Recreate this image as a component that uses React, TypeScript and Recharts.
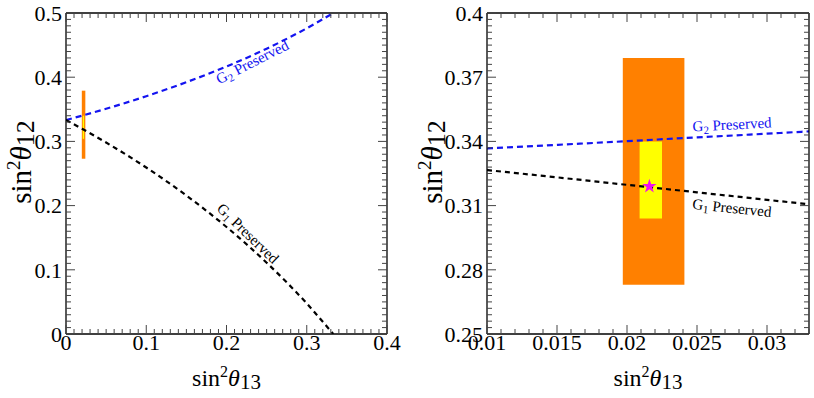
import React from 'react';
import { ComposedChart, Line, XAxis, YAxis, ReferenceArea, ReferenceDot, Scatter, Label } from 'recharts';

// Left panel: full range of the two preserved-subgroup curves
const leftS13 = [0, 0.02, 0.05, 0.1, 0.15, 0.2, 0.25, 0.3, 0.333];
const leftG2 = [0.3333, 0.3401, 0.3509, 0.3704, 0.3922, 0.4167, 0.4444, 0.4762, 0.4998];
const leftG1 = [0.3333, 0.3197, 0.2982, 0.2593, 0.2157, 0.1667, 0.1111, 0.0476, 0.0];

// Right panel: zoom around the measured region
const rightS13 = [0.01, 0.015, 0.02, 0.025, 0.03, 0.033];
const rightG2 = [0.3367, 0.3384, 0.3401, 0.3419, 0.3436, 0.3447];
const rightG1 = [0.3266, 0.3232, 0.3197, 0.3162, 0.3127, 0.3106];

// 3 sigma (orange) and 1 sigma (yellow) ranges, best fit point
const sigma3S13 = [0.0197, 0.0241];
const sigma3S12 = [0.273, 0.379];
const sigma1S13 = [0.0209, 0.0225];
const sigma1S12 = [0.304, 0.34];
const bestFit = [0.0216, 0.319];

// tick labels
const leftXMajor = [0, 0.1, 0.2, 0.3, 0.4];
const leftYMajor = [0, 0.1, 0.2, 0.3, 0.4, 0.5];
const rightXMajor = [0.01, 0.015, 0.02, 0.025, 0.03];
const rightYMajor = [0.25, 0.28, 0.31, 0.34, 0.37, 0.4];

const FONT = '"Liberation Serif", "DejaVu Serif", serif';

const steps = (from: number, to: number, step: number) => {
  const out: number[] = [];
  const n = Math.round((to - from) / step);
  for (let i = 0; i <= n; i++) out.push(Math.round((from + i * step) * 1e6) / 1e6);
  return out;
};

const toPoints = (xs: number[], ys: number[]) => xs.map((x, i) => ({ x, y: ys[i] }));

const isMajor = (majors: number[], v: number) => majors.some((m) => Math.abs(m - v) < 1e-9);

// inward ticks, label only on bottom / left
const makeTick = (majors: number[], side: 'bottom' | 'top' | 'left' | 'right') => (props: any) => {
  const { x, y, payload } = props;
  const v = payload.value;
  const major = isMajor(majors, v);
  const len = major ? 9 : 5;
  const col = '#444';
  if (side === 'bottom') {
    return (
      <g>
        <line x1={x} x2={x} y1={y} y2={y - len} stroke={col} strokeWidth={1} />
        {major && (
          <text x={x} y={y + 16} textAnchor="middle" fontFamily={FONT} fontSize={22} fill="#000">{String(v)}</text>
        )}
      </g>
    );
  }
  if (side === 'top') {
    return <line x1={x} x2={x} y1={y} y2={y + len} stroke={col} strokeWidth={1} />;
  }
  if (side === 'left') {
    return (
      <g>
        <line x1={x} x2={x + len} y1={y} y2={y} stroke={col} strokeWidth={1} />
        {major && (
          <text x={x - 4} y={y} dy="0.35em" textAnchor="end" fontFamily={FONT} fontSize={22} fill="#000">{String(v)}</text>
        )}
      </g>
    );
  }
  return <line x1={x} x2={x - len} y1={y} y2={y} stroke={col} strokeWidth={1} />;
};

const xTitle = (props: any) => {
  const vb = props.viewBox;
  const cx = vb.x + vb.width / 2;
  return (
    <text x={cx} y={vb.y + 52} textAnchor="middle" fontFamily={FONT} fontSize={24} fill="#000">
      sin<tspan fontSize={16} dy={-9}>2</tspan>
      <tspan fontStyle="italic" fontSize={24} dy={9}>θ</tspan>
      <tspan fontSize={21} dy={3}>13</tspan>
    </text>
  );
};

const yTitle = (cx: number) => (props: any) => {
  const vb = props.viewBox;
  const cy = vb.y + 149;
  return (
    <text x={cx} y={cy} dy="0.35em" textAnchor="middle" transform={`rotate(-90 ${cx} ${cy})`} fontFamily={FONT} fontSize={29} fill="#000">
      sin<tspan fontSize={19} dy={-11}>2</tspan>
      <tspan fontStyle="italic" fontSize={29} dy={11}>θ</tspan>
      <tspan fontSize={26} dy={3}>12</tspan>
    </text>
  );
};

const annotation = (sub: string, color: string, angle: number) => (props: any) => {
  const vb = props.viewBox;
  const cx = vb.x;
  const cy = vb.y;
  return (
    <text x={cx} y={cy} dy="0.35em" textAnchor="middle" transform={`rotate(${angle} ${cx} ${cy})`} fontFamily={FONT} fontSize={15} fill={color}>
      G<tspan fontSize={11} dy={3}>{sub}</tspan>
      <tspan dy={-3}>{'\u00a0Preserved'}</tspan>
    </text>
  );
};

const BLUE = '#1414f0';

type PanelProps = {
  left: number;
  width: number;
  marginRight: number;
  yAxisWidth: number;
  xDomain: [number, number];
  yDomain: [number, number];
  xMajor: number[];
  yMajor: number[];
  xMinor: number[];
  yMinor: number[];
  s13: number[];
  g2: number[];
  g1: number[];
  yTitleX: number;
  g2Label: [number, number, number];
  g1Label: [number, number, number];
  showStar: boolean;
};

function Panel(p: PanelProps) {
  const frame = { stroke: '#000', strokeWidth: 1.3 };
  return (
    <div style={{ position: 'absolute', left: p.left, top: 0 }}>
      <ComposedChart width={p.width} height={398} margin={{ top: 12, right: p.marginRight, bottom: 4, left: 4 }}>
        <XAxis
          dataKey="x"
          type="number"
          domain={p.xDomain}
          allowDataOverflow
          ticks={p.xMinor}
          interval={0}
          tickSize={0}
          tickMargin={0}
          tickLine={false}
          axisLine={frame}
          height={60}
          tick={makeTick(p.xMajor, 'bottom')}
        >
          <Label content={xTitle} />
        </XAxis>
        <XAxis
          xAxisId="top"
          orientation="top"
          dataKey="x"
          type="number"
          domain={p.xDomain}
          allowDataOverflow
          ticks={p.xMinor}
          interval={0}
          tickSize={0}
          tickMargin={0}
          tickLine={false}
          axisLine={frame}
          height={1}
          tick={makeTick(p.xMajor, 'top')}
        />
        <YAxis
          dataKey="y"
          type="number"
          domain={p.yDomain}
          allowDataOverflow
          ticks={p.yMinor}
          interval={0}
          tickSize={0}
          tickMargin={0}
          tickLine={false}
          axisLine={frame}
          width={p.yAxisWidth}
          tick={makeTick(p.yMajor, 'left')}
        >
          <Label content={yTitle(p.yTitleX)} />
        </YAxis>
        <YAxis
          yAxisId="right"
          orientation="right"
          type="number"
          domain={p.yDomain}
          allowDataOverflow
          ticks={p.yMinor}
          interval={0}
          tickSize={0}
          tickMargin={0}
          tickLine={false}
          axisLine={frame}
          width={1}
          tick={makeTick(p.yMajor, 'right')}
        />
        <ReferenceArea x1={sigma3S13[0]} x2={sigma3S13[1]} y1={sigma3S12[0]} y2={sigma3S12[1]} fill="#ff8000" fillOpacity={1} stroke="none" />
        <ReferenceArea x1={sigma1S13[0]} x2={sigma1S13[1]} y1={sigma1S12[0]} y2={sigma1S12[1]} fill="#ffff00" fillOpacity={1} stroke="none" />
        <Line
          data={toPoints(p.s13, p.g2)}
          dataKey="y"
          type="monotone"
          stroke={BLUE}
          strokeWidth={2.2}
          strokeDasharray="6 4"
          dot={false}
          isAnimationActive={false}
        />
        <Line
          data={toPoints(p.s13, p.g1)}
          dataKey="y"
          type="monotone"
          stroke="#000"
          strokeWidth={2.2}
          strokeDasharray="5 4"
          dot={false}
          isAnimationActive={false}
        />
        {p.showStar && (
          <Scatter data={[{ x: bestFit[0], y: bestFit[1] }]} dataKey="y" shape="star" fill="#f010f0" isAnimationActive={false} />
        )}
        <ReferenceDot x={p.g2Label[0]} y={p.g2Label[1]} r={0} fill="none" stroke="none" label={annotation('2', BLUE, p.g2Label[2])} />
        <ReferenceDot x={p.g1Label[0]} y={p.g1Label[1]} r={0} fill="none" stroke="none" label={annotation('1', '#000', p.g1Label[2])} />
      </ComposedChart>
    </div>
  );
}

export default function App() {
  return (
    <div style={{ position: 'absolute', left: 0, top: 0, width: 814, height: 398, background: '#fff', overflow: 'hidden' }}>
      <Panel
        left={0}
        width={420}
        marginRight={32}
        yAxisWidth={62}
        xDomain={[0, 0.4]}
        yDomain={[0, 0.5]}
        xMajor={leftXMajor}
        yMajor={leftYMajor}
        xMinor={steps(0, 0.4, 0.01)}
        yMinor={steps(0, 0.5, 0.01)}
        s13={leftS13}
        g2={leftG2}
        g1={leftG1}
        yTitleX={21}
        g2Label={[0.232, 0.424, -27]}
        g1Label={[0.227, 0.157, 44]}
        showStar={false}
      />
      <Panel
        left={400}
        width={414}
        marginRight={4}
        yAxisWidth={83}
        xDomain={[0.01, 0.033]}
        yDomain={[0.25, 0.4]}
        xMajor={rightXMajor}
        yMajor={rightYMajor}
        xMinor={steps(0.01, 0.033, 0.001)}
        yMinor={steps(0.25, 0.4, 0.003)}
        s13={rightS13}
        g2={rightG2}
        g1={rightG1}
        yTitleX={32}
        g2Label={[0.0275, 0.348, -3]}
        g1Label={[0.0275, 0.309, 6]}
        showStar={true}
      />
    </div>
  );
}
